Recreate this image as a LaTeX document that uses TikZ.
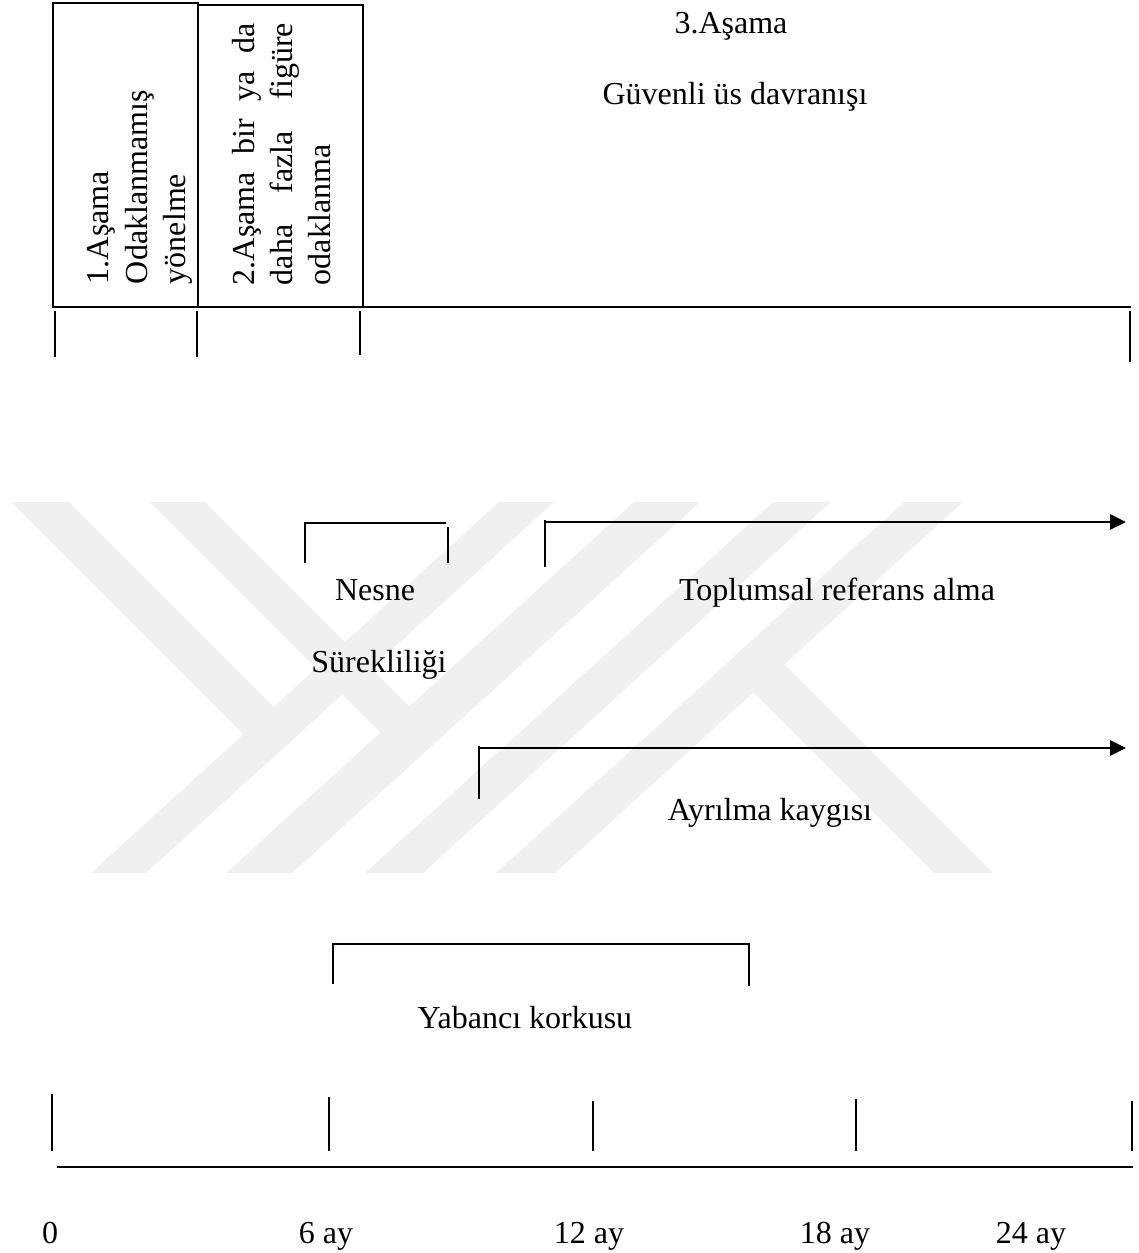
\documentclass[tikz,border=0pt]{standalone}
\usepackage{fontspec}
\setmainfont{Liberation Serif}
\usetikzlibrary{arrows.meta}
\definecolor{wm}{HTML}{F0F0F0}
\begin{document}
\begin{tikzpicture}[x=1pt,y=-1pt,
  every node/.style={inner sep=0pt,outer sep=0pt,font=\fontsize{32}{38}\selectfont},
  lbl/.style={anchor=base},
  vlbl/.style={anchor=base west,rotate=90},
  thin line/.style={line width=1.2pt},
  box line/.style={line width=1.5pt},
  arrow line/.style={line width=2.8pt,-{Triangle[length=16pt,width=15pt]}},
  brk/.style={line width=1.3pt},
  wmark/.style={fill=wm,draw=none}]
\useasboundingbox (0,0) rectangle (1138,1253);

% --- faint watermark (background)
\fill[wmark] (91,873) -- (146,873) -- (554,502) -- (499,502) -- cycle;
\fill[wmark] (226,873) -- (292,873) -- (700,502) -- (634,502) -- cycle;
\fill[wmark] (365,873) -- (423,873) -- (831,502) -- (773,502) -- cycle;
\fill[wmark] (496,873) -- (555,873) -- (963,502) -- (904,502) -- cycle;
\begin{scope}
  \clip (0,502) -- (554,502) -- (146,873) -- (0,873) -- cycle;
  \fill[wmark] (11,502) -- (69,502) -- (469,902) -- (411,902) -- cycle;
\end{scope}
\begin{scope}
  \clip (0,502) -- (700,502) -- (292,873) -- (0,873) -- cycle;
  \fill[wmark] (150,502) -- (205,502) -- (605,902) -- (550,902) -- cycle;
\end{scope}
\begin{scope}
  \clip (496,873) -- (904,502) -- (1138,502) -- (1138,873) -- cycle;
  \fill[wmark] (934,873) -- (993,873) -- (593,473) -- (534,473) -- cycle;
\end{scope}

% --- top stage boxes
\coordinate (b1a) at (53,3);   \coordinate (b1b) at (198,307);
\coordinate (b2a) at (198,5);  \coordinate (b2b) at (363,307);
\draw[box line] (b1a) rectangle (b1b);
\draw[box line] (b2a) rectangle (b2b);
\coordinate (top0) at (363,307); \coordinate (top1) at (1131,307);
\draw[thin line] (top0) -- (top1);

% stage texts (rotated)
\node[vlbl] (s1a) at (108,284) {1.Aşama};
\node[vlbl] (s1b) at (147,284) {Odaklanmamış};
\node[vlbl] (s1c) at (185,284) {yönelme};
\node[vlbl] (s2a) at (254,285) {\makebox[262pt][s]{2.Aşama bir ya da}};
\node[vlbl] (s2b) at (292,285) {\makebox[262pt][s]{daha fazla figüre}};
\node[vlbl] (s2c) at (330,285) {odaklanma};
\node[lbl] (s3a) at (731,33) {3.Aşama};
\node[lbl] (s3b) at (735,104) {Güvenli üs davranışı};

% top ticks
\foreach \n/\x/\yb in {t1/55/357,t2/197/357,t3/360/355,t4/1130/362}{
  \coordinate (\n a) at (\x,311); \coordinate (\n b) at (\x,\yb);
  \draw[thin line] (\n a) -- (\n b);
}

% Nesne surekliligi bracket
\coordinate (n1) at (305,563); \coordinate (n2) at (305,523);
\coordinate (n3) at (446,523); \coordinate (n4) at (448,527); \coordinate (n5) at (448,563);
\draw[brk] (n1) -- (n2) -- (n3);
\draw[brk] (n4) -- (n5);
\node[lbl] (nes1) at (375,600) {Nesne};
\node[lbl] (nes2) at (379,672) {Sürekliliği};

% Toplumsal referans alma arrow
\coordinate (r0) at (545,567); \coordinate (r1) at (545,520);
\coordinate (r2) at (1126,522);
\draw[thin line] (r0) -- (r1);
\draw[arrow line] (545,522) -- (r2);
\node[lbl] (tra) at (837,600) {Toplumsal referans alma};

% Ayrilma kaygisi arrow
\coordinate (a0) at (479,799); \coordinate (a1) at (479,746);
\coordinate (a2) at (1126,748);
\draw[thin line] (a0) -- (a1);
\draw[arrow line] (479,748) -- (a2);
\node[lbl] (ayk) at (770,820) {Ayrılma kaygısı};

% Yabanci korkusu bracket
\coordinate (y1) at (333,984); \coordinate (y2) at (333,944);
\coordinate (y3) at (749,944); \coordinate (y4) at (749,986);
\draw[brk] (y1) -- (y2) -- (y3) -- (y4);
\node[lbl] (yk) at (525,1028) {Yabancı korkusu};

% bottom ticks and axis
\foreach \n/\x/\ya in {u1/52/1094,u2/329/1097,u3/593/1101,u4/856/1099,u5/1132/1101}{
  \coordinate (\n a) at (\x,\ya); \coordinate (\n b) at (\x,1151);
  \draw[thin line] (\n a) -- (\n b);
}
\coordinate (ax0) at (57,1167); \coordinate (ax1) at (1133,1167);
\draw[line width=1.6pt] (ax0) -- (ax1);

\node[lbl] (m0) at (50,1243) {0};
\node[lbl] (m6) at (326,1243) {6 ay};
\node[lbl] (m12) at (589,1243) {12 ay};
\node[lbl] (m18) at (835,1243) {18 ay};
\node[lbl] (m24) at (1031,1243) {24 ay};
\end{tikzpicture}
\end{document}
